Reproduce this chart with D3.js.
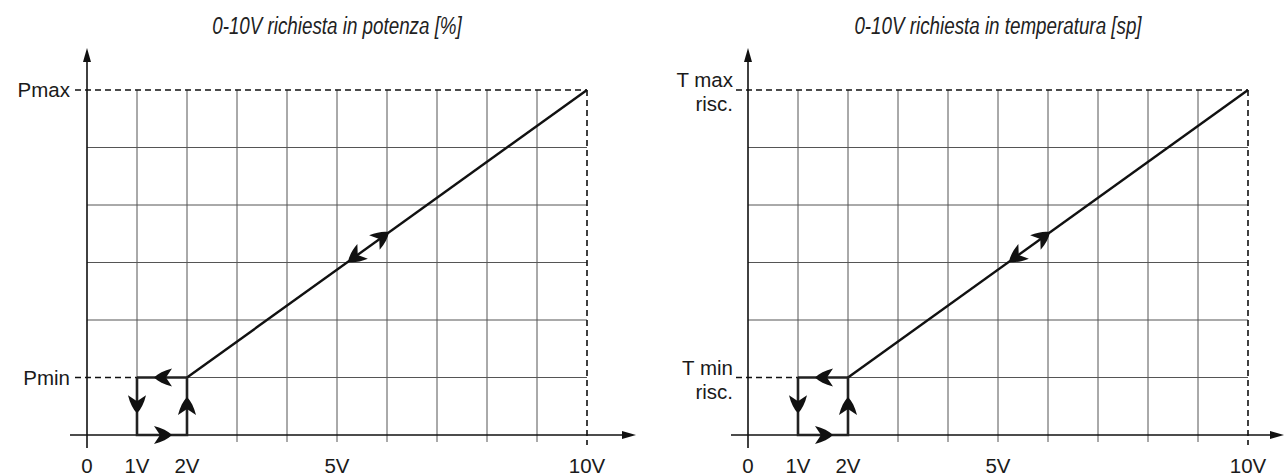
<!DOCTYPE html>
<html>
<head>
<meta charset="utf-8">
<script src="https://cdn.jsdelivr.net/npm/d3@7"></script>
<style>
  html, body { margin: 0; padding: 0; background: #fff; }
  svg { display: block; }
  .lbl { font-family: "Liberation Sans", Arial, Helvetica, sans-serif; font-size: 20.5px; fill: #1a1a1a; }
  .ttl { font-family: "Liberation Sans", Arial, sans-serif; font-style: italic; font-size: 23.5px; fill: #222; }
</style>
</head>
<body>
<svg id="chart" width="1284" height="476"></svg>
<script>
// ---- data ----
const panelTitles = ["0-10V richiesta in potenza [%]", "0-10V richiesta in temperatura [sp]"];
const xTickValues = [0, 1, 2, 5, 10];
const xTickLabels = ["0", "1V", "2V", "5V", "10V"];
const gridVolts = [1, 2, 3, 4, 5, 6, 7, 8, 9];
const gridLevels = [1, 2, 3, 4, 5];
const levelValues = [1, 6];                       // min, max
const leftLevelLabels = [["Pmin"], ["Pmax"]];
const rightLevelLabels = [["T min", "risc."], ["T max", "risc."]];
const rampLine = [[2, 1], [10, 6]];
const hysteresisLoop = [[1, 1], [1, 0], [2, 0], [2, 1], [1, 1]];
// arrow tips [x, y] with the point they come from [x, y]
const arrowTips = [[1.34, 1], [1, 0.38], [1.7, 0], [2, 0.66], [5.22, 3.01], [6.04, 3.53]];
const arrowFrom = [[2, 1], [1, 1], [1, 0], [2, 0], [10, 6], [2, 1]];

const svg = d3.select("#chart");
const panels = [
  { x0: 87, labels: leftLevelLabels, title: panelTitles[0], axisEnd: 636 },
  { x0: 748, labels: rightLevelLabels, title: panelTitles[1], axisEnd: 1284 }
];

panels.forEach(p => {
  const x = d3.scaleLinear().domain([0, 10]).range([p.x0, p.x0 + 500]);
  const y = d3.scaleLinear().domain([0, 6]).range([435, 90]);
  const g = svg.append("g");

  // title (condensed)
  g.append("text").attr("class", "ttl")
    .attr("transform", `translate(${x(5)},34) scale(0.8,1)`)
    .attr("text-anchor", "middle").text(p.title);

  // vertical grid
  g.selectAll(".gv").data(gridVolts).join("line")
    .attr("x1", d => x(d)).attr("x2", d => x(d))
    .attr("y1", y(6)).attr("y2", d => d <= 2 ? y(0) : y(0) + 7)
    .attr("stroke", "#555").attr("stroke-width", 1);

  // horizontal grid
  g.selectAll(".gh").data(gridLevels).join("line")
    .attr("x1", d => d === levelValues[0] ? x(1) : x(0)).attr("x2", x(10))
    .attr("y1", d => y(d)).attr("y2", d => y(d))
    .attr("stroke", "#555").attr("stroke-width", 1);

  // dashed level lines
  const dash = "6,4";
  g.append("line").attr("x1", x(0) - 12).attr("x2", x(10))
    .attr("y1", y(levelValues[1])).attr("y2", y(levelValues[1]))
    .attr("stroke", "#111").attr("stroke-width", 1.6).attr("stroke-dasharray", dash);
  g.append("line").attr("x1", x(0) - 12).attr("x2", x(1))
    .attr("y1", y(levelValues[0])).attr("y2", y(levelValues[0]))
    .attr("stroke", "#111").attr("stroke-width", 1.6).attr("stroke-dasharray", dash);
  g.append("line").attr("x1", x(10)).attr("x2", x(10))
    .attr("y1", y(levelValues[1])).attr("y2", y(0) + 10)
    .attr("stroke", "#111").attr("stroke-width", 1.6).attr("stroke-dasharray", dash);

  // axes
  g.append("line").attr("x1", x(0) - 17).attr("x2", p.axisEnd - 10)
    .attr("y1", y(0)).attr("y2", y(0)).attr("stroke", "#111").attr("stroke-width", 1.6);
  g.append("path").attr("d", `M${p.axisEnd},${y(0)} L${p.axisEnd - 14},${y(0) - 4} L${p.axisEnd - 14},${y(0) + 4} Z`)
    .attr("fill", "#111");
  g.append("line").attr("x1", x(0)).attr("x2", x(0))
    .attr("y1", y(0) + 13).attr("y2", 58).attr("stroke", "#111").attr("stroke-width", 1.6);
  g.append("path").attr("d", `M${x(0)},48 L${x(0) - 4},62 L${x(0) + 4},62 Z`).attr("fill", "#111");

  // x tick labels
  g.selectAll(".xt").data(xTickValues).join("text")
    .attr("class", "lbl").attr("x", d => x(d)).attr("y", 473)
    .attr("text-anchor", "middle").text((d, i) => xTickLabels[i]);

  // level labels
  levelValues.forEach((v, i) => {
    const lines = p.labels[i];
    const t = g.append("text").attr("class", "lbl").attr("text-anchor", "end");
    if (lines.length === 1) {
      t.attr("x", x(0) - 17).attr("y", y(v) + 7).text(lines[0]);
    } else {
      lines.forEach((s, k) => {
        t.append("tspan").attr("x", x(0) - 15).attr("y", y(v) - 3 + k * 24).text(s);
      });
    }
  });

  // thick curve
  const line = d3.line().x(d => x(d[0])).y(d => y(d[1]));
  g.append("path").attr("d", line(rampLine)).attr("fill", "none")
    .attr("stroke", "#111").attr("stroke-width", 2.4);
  g.append("path").attr("d", line(hysteresisLoop)).attr("fill", "none")
    .attr("stroke", "#222").attr("stroke-width", 2.6).attr("stroke-linejoin", "miter");

  // arrowheads
  const headPath = "M0,0 C-4,-4 -10,-7 -18,-9 L-12,0 L-18,9 C-10,7 -4,4 0,0 Z";
  g.selectAll(".ah").data(arrowTips).join("path")
    .attr("d", headPath).attr("fill", "#111")
    .attr("transform", (d, i) => {
      const tx = x(d[0]), ty = y(d[1]);
      const fx = x(arrowFrom[i][0]), fy = y(arrowFrom[i][1]);
      const ang = Math.atan2(ty - fy, tx - fx) * 180 / Math.PI;
      return `translate(${tx},${ty}) rotate(${ang})`;
    });
});
</script>
</body>
</html>
